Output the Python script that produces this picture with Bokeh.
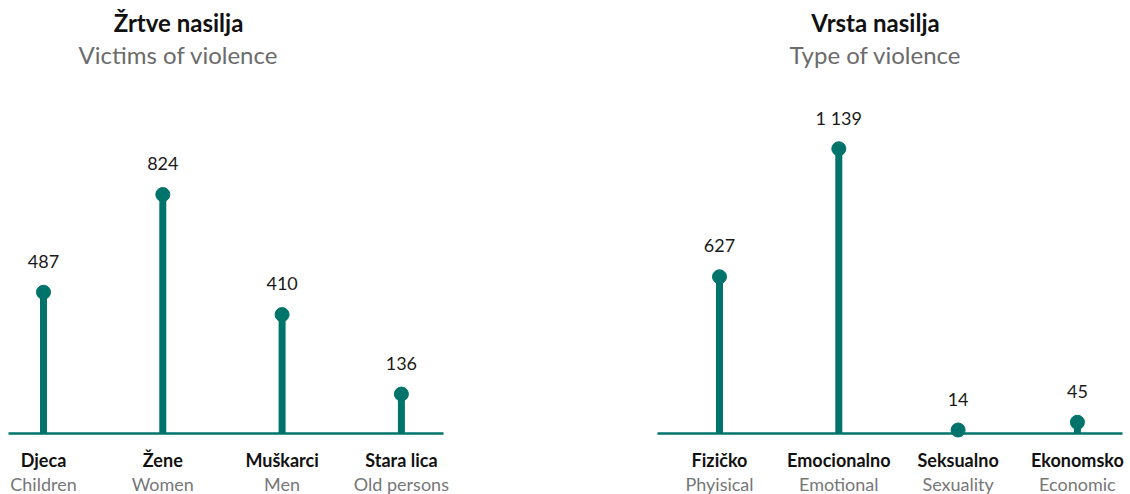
from bokeh.plotting import figure
from bokeh.layouts import row
from bokeh.models import Range1d, ColumnDataSource
from bokeh.core.properties import value
from bokeh.embed import file_html
from bokeh.resources import INLINE

# ---- data ----
victims_hr = ["Djeca", "Žene", "Muškarci", "Stara lica"]
victims_en = ["Children", "Women", "Men", "Old persons"]
victims_values = [487, 824, 410, 136]
victims_labels = ["487", "824", "410", "136"]

types_hr = ["Fizičko", "Emocionalno", "Seksualno", "Ekonomsko"]
types_en = ["Phyisical", "Emotional", "Sexuality", "Economic"]
types_values = [627, 1139, 14, 45]
types_labels = ["627", "1 139", "14", "45"]

TEAL = "#00736b"
FONT = value("Lato")
H = 494
BASE_FROM_BOTTOM = 61   # px from frame bottom to baseline
STEP = 119.3            # px between categories


def panel(title, subtitle, hr, en, vals, labels, width, first_px, px_per_unit,
          title_px, base_left_px, base_right_px):
    n = len(vals)
    xs = list(range(n))
    x0 = -first_px / STEP
    x1 = x0 + width / STEP
    u = 1.0 / px_per_unit
    y0 = -BASE_FROM_BOTTOM * u
    y1 = (H - BASE_FROM_BOTTOM) * u
    p = figure(width=width, height=H, output_backend="svg", toolbar_location=None,
               x_range=Range1d(x0, x1), y_range=Range1d(y0, y1),
               min_border=0, outline_line_color=None)
    p.axis.visible = False
    p.grid.visible = False
    p.background_fill_color = "white"
    p.border_fill_color = "white"

    src = ColumnDataSource(dict(x=xs, v=vals, zero=[0] * n, hr=hr, en=en, lab=labels))

    # baseline
    p.segment(x0=[x0 + base_left_px / STEP], x1=[x0 + base_right_px / STEP],
              y0=[0], y1=[0], line_color=TEAL, line_width=2.5)
    # stems and dots
    p.segment(x0="x", x1="x", y0="zero", y1="v", source=src, line_color=TEAL,
              line_width=7, line_cap="butt")
    p.scatter(x="x", y="v", source=src, size=14, fill_color=TEAL, line_color=TEAL)
    # value labels
    p.text(x="x", y="v", text="lab", source=src, y_offset=-31, text_font=FONT,
           text_font_size="18px", text_color="#1a1a1a", text_align="center",
           text_baseline="middle")
    # category labels
    p.text(x="x", y="zero", text="hr", source=src, y_offset=26, text_font=FONT,
           text_font_size="18px", text_font_style="bold", text_color="#111111",
           text_align="center", text_baseline="middle")
    p.text(x="x", y="zero", text="en", source=src, y_offset=50, text_font=FONT,
           text_font_size="18px", text_color="#777777", text_align="center",
           text_baseline="middle")
    # titles
    tx = x0 + title_px / STEP
    p.text(x=[tx], y=[y1], text=[title], y_offset=22, text_font=FONT,
           text_font_size="24px", text_font_style="bold", text_color="#111111",
           text_align="center", text_baseline="middle")
    p.text(x=[tx], y=[y1], text=[subtitle], y_offset=54, text_font=FONT,
           text_font_size="24px", text_color="#6b6b6b", text_align="center",
           text_baseline="middle")
    return p


left = panel("Žrtve nasilja", "Victims of violence", victims_hr, victims_en,
             victims_values, victims_labels, width=560, first_px=43,
             px_per_unit=0.29, title_px=178, base_left_px=8, base_right_px=443)
right = panel("Vrsta nasilja", "Type of violence", types_hr, types_en,
              types_values, types_labels, width=570, first_px=159,
              px_per_unit=0.25, title_px=315, base_left_px=97, base_right_px=562)

layout = row(left, right, spacing=0)
open("out.html", "w").write(file_html(layout, INLINE))
